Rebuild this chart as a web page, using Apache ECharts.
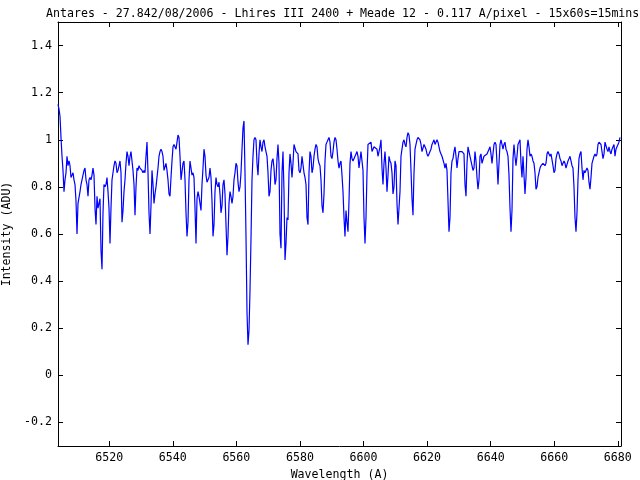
<!DOCTYPE html>
<html><head><meta charset="utf-8">
<script src="https://cdn.jsdelivr.net/npm/echarts@6/dist/echarts.min.js"></script>
<style>html,body{margin:0;padding:0;background:#fff}#c{width:640px;height:480px}</style>
</head><body><div id="c"></div>
<script>
const titleText = "Antares - 27.842/08/2006 - Lhires III 2400 + Meade 12 - 0.117 A/pixel - 15x60s=15mins";
const xName = "Wavelength (A)";
const yName = "Intensity (ADU)";
const xTicks = [6520, 6540, 6560, 6580, 6600, 6620, 6640, 6660, 6680];
const yTicks = [-0.2, 0, 0.2, 0.4, 0.6, 0.8, 1, 1.2, 1.4];
const xRange = [6503.9, 6681.0];
const yRange = [-0.3, 1.5];
const wavelengthStart = 6503.9;
const wavelengthStep = 0.31456;
const intensity = [
1.15,1.13,1.10,1.01,0.93,0.87,0.78,0.83,0.86,0.93,
0.89,0.91,0.89,0.84,0.84,0.86,0.83,0.81,0.74,0.60,
0.73,0.73,0.78,0.81,0.83,0.85,0.87,0.88,0.83,0.81,
0.76,0.83,0.84,0.83,0.85,0.88,0.85,0.71,0.64,0.76,
0.71,0.71,0.75,0.53,0.45,0.69,0.81,0.80,0.81,0.84,
0.78,0.71,0.56,0.71,0.83,0.86,0.89,0.91,0.90,0.86,
0.87,0.89,0.91,0.86,0.65,0.70,0.78,0.83,0.90,0.95,
0.93,0.89,0.93,0.95,0.91,0.87,0.81,0.68,0.80,0.88,
0.87,0.89,0.88,0.88,0.87,0.86,0.87,0.86,0.93,0.99,
0.86,0.69,0.60,0.72,0.87,0.81,0.73,0.77,0.80,0.80,
0.88,0.93,0.95,0.96,0.95,0.93,0.87,0.87,0.90,0.87,
0.83,0.77,0.76,0.84,0.91,0.97,0.98,0.98,0.96,0.99,
1.02,1.01,0.93,0.83,0.83,0.90,0.91,0.83,0.69,0.59,
0.65,0.83,0.91,0.91,0.85,0.86,0.84,0.71,0.56,0.75,
0.78,0.76,0.73,0.70,0.81,0.88,0.96,0.93,0.85,0.82,
0.83,0.84,0.88,0.84,0.74,0.59,0.64,0.78,0.84,0.81,
0.80,0.82,0.77,0.69,0.72,0.81,0.83,0.77,0.64,0.51,
0.59,0.73,0.78,0.76,0.73,0.76,0.83,0.86,0.90,0.89,
0.82,0.78,0.80,0.86,0.96,1.05,1.08,0.86,0.59,0.27,
0.13,0.19,0.36,0.58,0.83,0.93,1.00,1.01,1.00,0.90,
0.85,0.94,1.00,0.97,0.95,0.99,1.00,0.97,0.95,0.93,
0.86,0.76,0.78,0.87,0.91,0.92,0.88,0.81,0.83,0.92,
0.98,0.90,0.60,0.54,0.86,0.95,0.78,0.49,0.56,0.67,
0.66,0.86,0.94,0.90,0.84,0.90,0.98,0.98,0.95,0.95,
0.94,0.87,0.86,0.88,0.93,0.93,0.86,0.84,0.81,0.67,
0.64,0.86,0.95,0.93,0.86,0.88,0.93,0.96,0.98,0.97,
0.92,0.90,0.89,0.83,0.72,0.69,0.77,0.91,0.98,0.99,
1.00,1.01,0.99,0.93,0.92,0.95,0.99,1.01,1.00,0.96,
0.91,0.88,0.90,0.91,0.85,0.78,0.67,0.59,0.70,0.65,
0.61,0.74,0.90,0.95,0.92,0.91,0.91,0.91,0.94,0.95,
0.93,0.88,0.88,0.95,0.95,0.87,0.67,0.56,0.67,0.86,
0.98,0.98,0.98,0.99,0.95,0.96,0.97,0.97,0.97,0.96,
0.93,0.93,0.97,1.00,0.88,0.81,0.90,0.95,0.88,0.78,
0.85,0.93,0.91,0.90,0.86,0.77,0.80,0.91,0.89,0.73,
0.64,0.64,0.78,0.93,0.96,0.99,1.00,0.98,0.97,1.01,
1.03,1.02,0.98,0.87,0.75,0.68,0.86,0.96,0.98,1.00,
1.01,1.01,1.00,0.98,0.95,0.95,0.98,0.97,0.96,0.94,
0.93,0.94,0.95,0.96,0.98,0.99,1.00,0.98,0.98,1.00,
0.99,0.97,0.95,0.94,0.93,0.93,0.90,0.88,0.90,0.87,
0.74,0.61,0.67,0.86,0.91,0.92,0.95,0.97,0.93,0.88,
0.92,0.95,0.95,0.95,0.95,0.95,0.94,0.81,0.76,0.90,
0.97,0.95,0.93,0.93,0.89,0.87,0.88,0.95,0.91,0.84,
0.79,0.83,0.93,0.94,0.90,0.90,0.93,0.93,0.93,0.94,
0.94,0.96,0.97,0.94,0.90,0.94,0.98,0.99,0.98,0.90,
0.81,0.90,0.98,1.00,0.98,0.96,0.98,0.99,0.96,0.95,
0.93,0.85,0.71,0.61,0.70,0.92,0.98,0.93,0.89,0.93,
0.98,0.99,1.00,0.90,0.84,0.93,0.93,0.77,0.84,0.96,
1.00,0.97,0.93,0.94,0.93,0.91,0.90,0.86,0.79,0.80,
0.84,0.86,0.88,0.89,0.89,0.90,0.90,0.89,0.90,0.94,
0.95,0.94,0.93,0.94,0.94,0.89,0.86,0.87,0.92,0.94,
0.95,0.94,0.92,0.91,0.89,0.90,0.91,0.90,0.88,0.88,
0.91,0.92,0.93,0.91,0.89,0.88,0.80,0.67,0.61,0.69,
0.83,0.92,0.94,0.95,0.88,0.83,0.87,0.86,0.86,0.88,
0.87,0.82,0.79,0.84,0.90,0.90,0.93,0.94,0.93,0.94,
0.98,0.99,0.99,0.98,0.98,0.92,0.94,0.99,0.99,0.96,
0.95,0.97,0.95,0.94,0.96,0.97,0.98,0.93,0.96,0.97,
0.98,0.99,1.01
];

const points = intensity.map((v, i) => [wavelengthStart + i * wavelengthStep, v]);
const FONT = "'DejaVu Sans Mono', 'Liberation Mono', monospace";
const FS = 11.6;

const chart = echarts.init(document.getElementById('c'), null, {renderer: 'canvas'});
const baseX = {
  type: 'value', min: xRange[0], max: xRange[1],
  splitLine: {show: false},
  axisLine: {show: true, onZero: false, lineStyle: {color: '#000', width: 1}},
  axisTick: {show: true, inside: true, length: 5, customValues: xTicks, lineStyle: {color: '#000', width: 1}}
};
const baseY = {
  type: 'value', min: yRange[0], max: yRange[1],
  splitLine: {show: false},
  axisLine: {show: true, onZero: false, lineStyle: {color: '#000', width: 1}},
  axisTick: {show: true, inside: true, length: 5, customValues: yTicks, lineStyle: {color: '#000', width: 1}}
};
chart.setOption({
  animation: false,
  backgroundColor: '#fff',
  title: {
    text: titleText, left: 41, top: 3,
    textStyle: {fontFamily: FONT, fontSize: FS, fontWeight: 'normal', color: '#000'}
  },
  grid: {left: 58, right: 19, top: 22, bottom: 34, containLabel: false, outerBoundsMode: 'none'},
  xAxis: [
    Object.assign({}, baseX, {
      position: 'bottom',
      axisLabel: {show: true, customValues: xTicks, margin: 6, color: '#000', fontFamily: FONT, fontSize: FS, formatter: v => String(v)},
      name: xName, nameLocation: 'middle', nameGap: 18,
      nameTextStyle: {fontFamily: FONT, fontSize: FS, color: '#000'}
    }),
    Object.assign({}, baseX, {position: 'top', axisLabel: {show: false}})
  ],
  yAxis: [
    Object.assign({}, baseY, {
      position: 'left',
      axisLabel: {show: true, customValues: yTicks, margin: 6, color: '#000', fontFamily: FONT, fontSize: FS, formatter: v => String(v)},
      name: yName, nameLocation: 'middle', nameGap: 41,
      nameTextStyle: {fontFamily: FONT, fontSize: FS, color: '#000'}
    }),
    Object.assign({}, baseY, {position: 'right', axisLabel: {show: false}})
  ],
  series: [{
    type: 'line', data: points, xAxisIndex: 0, yAxisIndex: 0,
    showSymbol: false, symbol: 'none', silent: true, clip: true,
    lineStyle: {color: '#0000ff', width: 1.2}
  }]
});
</script></body></html>
